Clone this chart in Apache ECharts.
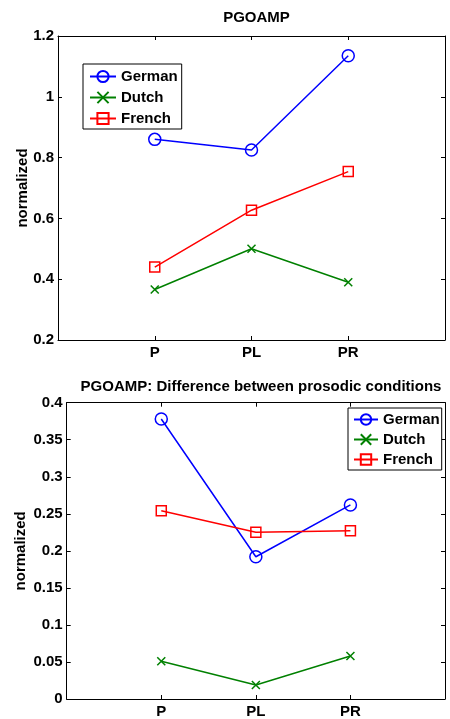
<!DOCTYPE html>
<html>
<head>
<meta charset="utf-8">
<script src="https://cdn.jsdelivr.net/npm/echarts@6/dist/echarts.min.js"></script>
<style>
  html, body { margin: 0; padding: 0; background: #fff; }
  #main { width: 450px; height: 719px; }
</style>
</head>
<body>
<div id="main"></div>
<script>
var categories = ['P', 'PL', 'PR'];
var seriesNames = ['German', 'Dutch', 'French'];

// top panel: PGOAMP
var germanAmp = [0.86, 0.825, 1.135];
var dutchAmp = [0.366, 0.5, 0.39];
var frenchAmp = [0.44, 0.627, 0.754];

// bottom panel: difference between prosodic conditions
var germanDiff = [0.378, 0.192, 0.262];
var dutchDiff = [0.051, 0.019, 0.058];
var frenchDiff = [0.254, 0.225, 0.227];

var myChart = echarts.init(document.getElementById('main'), null, { renderer: 'canvas' });

var font = 'Liberation Sans, Arial, sans-serif';
var colors = ['#0000ff', '#008000', '#ff0000'];
var crossPath = 'path://M0,0L10,10M10,0L0,10';
var symbols = ['circle', crossPath, 'rect'];
var symbolSizes = [12, 8, 10];

function toPoints(vals) {
    return vals.map(function (v, i) { return [i + 1, v]; });
}

function makeSeries(values, gi) {
    return values.map(function (vals, k) {
        return {
            name: seriesNames[k],
            type: 'line',
            xAxisIndex: gi * 2,
            yAxisIndex: gi * 2,
            data: toPoints(vals),
            symbol: symbols[k],
            symbolSize: symbolSizes[k],
            showAllSymbol: true,
            lineStyle: { color: colors[k], width: 1.5 },
            itemStyle: { color: 'rgba(0,0,0,0)', borderColor: colors[k], borderWidth: 1.5 },
            emphasis: { disabled: true },
            animation: false
        };
    });
}

function xAxes(gi) {
    var base = {
        gridIndex: gi,
        type: 'value',
        min: 0,
        max: 4,
        interval: 1,
        splitLine: { show: false },
        axisLine: { onZero: false, lineStyle: { color: '#000', width: 1 } },
        axisTick: { inside: true, length: 4, lineStyle: { color: '#000' } }
    };
    return [
        Object.assign({}, base, {
            position: 'bottom',
            axisLabel: {
                color: '#000', fontFamily: font, fontWeight: 'bold', fontSize: 15, margin: 5,
                formatter: function (v) { return categories[v - 1] || ''; }
            }
        }),
        Object.assign({}, base, { position: 'top', axisLabel: { show: false } })
    ];
}

function yAxes(gi, min, max, interval, nameGap) {
    var base = {
        gridIndex: gi,
        type: 'value',
        min: min,
        max: max,
        interval: interval,
        splitLine: { show: false },
        axisLine: { show: true, onZero: false, lineStyle: { color: '#000', width: 1 } },
        axisTick: { show: true, inside: true, length: 4, lineStyle: { color: '#000' } }
    };
    return [
        Object.assign({}, base, {
            position: 'left',
            name: 'normalized',
            nameLocation: 'middle',
            nameGap: nameGap,
            nameMoveOverlap: false,
            nameTextStyle: { color: '#000', fontFamily: font, fontWeight: 'bold', fontSize: 15 },
            axisLabel: { color: '#000', fontFamily: font, fontWeight: 'bold', fontSize: 15, margin: 4 }
        }),
        Object.assign({}, base, { position: 'right', axisLabel: { show: false } })
    ];
}

var legendText = { color: '#000', fontFamily: font, fontWeight: 'bold', fontSize: 15 };

var option = {
    backgroundColor: '#fff',
    animation: false,
    title: [
        { text: 'PGOAMP', left: 251.5, top: 5, textAlign: 'center',
          textStyle: { color: '#000', fontFamily: font, fontWeight: 'bold', fontSize: 15 } },
        { text: 'PGOAMP: Difference between prosodic conditions', left: 256, top: 374, textAlign: 'center',
          textStyle: { color: '#000', fontFamily: font, fontWeight: 'bold', fontSize: 15 } }
    ],
    legend: [
        {
            data: seriesNames,
            orient: 'vertical',
            left: 83, top: 64,
            itemWidth: 26, itemHeight: 14, itemGap: 6,
            padding: [5, 4, 3, 6],
            borderColor: '#000', borderWidth: 1,
            backgroundColor: '#fff',
            textStyle: legendText,
            selectedMode: false
        },
        {
            data: seriesNames,
            orient: 'vertical',
            left: 348, top: 408,
            itemWidth: 24, itemHeight: 13, itemGap: 5,
            padding: [4, 2, 3, 5],
            borderColor: '#000', borderWidth: 1,
            backgroundColor: '#fff',
            textStyle: legendText,
            selectedMode: false
        }
    ],
    grid: [
        { left: 58, right: 5, top: 36, bottom: 379 },
        { left: 66.7, right: 5, top: 402.7, bottom: 18.3 }
    ],
    xAxis: xAxes(0).concat(xAxes(1)),
    yAxis: yAxes(0, 0.2, 1.2, 0.2, 28).concat(yAxes(1, 0, 0.4, 0.05, 38)),
    series: makeSeries([germanAmp, dutchAmp, frenchAmp], 0)
        .concat(makeSeries([germanDiff, dutchDiff, frenchDiff], 1))
};

myChart.setOption(option);
</script>
</body>
</html>
